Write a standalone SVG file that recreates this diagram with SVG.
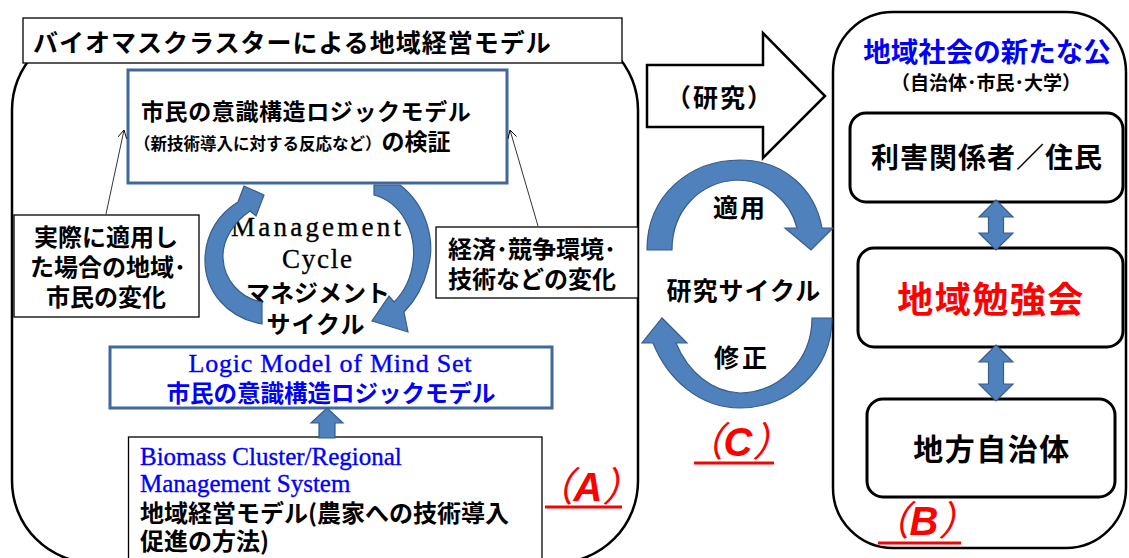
<svg xmlns="http://www.w3.org/2000/svg" width="1129" height="558" viewBox="0 0 1129 558">
<defs>
<style>
.jp{font-family:"Noto Sans CJK JP","Noto Sans CJK SC",sans-serif;font-weight:bold;fill:#000}
.sf{font-family:"Liberation Serif",serif;fill:#000;stroke:#000;stroke-width:0.35}
.blue{fill:#0000ff}
.sf.blue{stroke:#0000ff}
.red{fill:#ff0000}
.frame{fill:#fff;stroke:#000;stroke-width:2.5}
.box{fill:#fff;stroke:#000;stroke-width:1.3}
.bbox{fill:#fff;stroke:#41689a;stroke-width:3}
.rbox{fill:#fff;stroke:#000;stroke-width:3}
.blk{fill:#4f81bd;stroke:#385d8a;stroke-width:1.2}
.thin{fill:none;stroke:#000;stroke-width:0.8}
.lbl{font-family:"Liberation Sans","Noto Sans CJK JP",sans-serif;font-style:italic;font-weight:bold;fill:#ff0000}
.par{font-weight:normal}
.ul{stroke:#ff0000;stroke-width:3}
</style>
<marker id="open" viewBox="0 0 10 10" refX="9" refY="5" markerWidth="9" markerHeight="9" orient="auto" markerUnits="userSpaceOnUse">
<path d="M0,0 L9,5 L0,10" fill="none" stroke="#000" stroke-width="1"/>
</marker>
</defs>

<g id="regionA">
<rect class="frame" x="12" y="28" width="626" height="535" rx="82"/>
</g>
<g id="regionB">
<rect class="frame" x="833" y="12" width="293" height="536" rx="60"/>
</g>

<g id="title">
<rect class="box" x="23" y="18" width="599" height="45"/>
<text class="jp" x="33" y="52" font-size="25" letter-spacing="1">バイオマスクラスターによる地域経営モデル</text>
</g>

<g id="verify">
<rect class="bbox" x="128" y="70" width="379" height="113"/>
<text class="jp" x="141" y="120" font-size="23" letter-spacing="0.6">市民の意識構造ロジックモデル</text>
<text class="jp" x="134" y="150"><tspan font-size="16.5">（新技術導入に対する反応など）</tspan><tspan font-size="23">の検証</tspan></text>
</g>

<g id="leftLabel">
<rect class="box" x="14" y="215" width="185" height="102"/>
<text class="jp" x="106" y="246" font-size="24" text-anchor="middle">実際に適用し</text>
<text class="jp" x="108" y="276" font-size="24" text-anchor="middle">た場合の地域･</text>
<text class="jp" x="106" y="306" font-size="24" text-anchor="middle">市民の変化</text>
</g>

<g id="rightLabel">
<rect class="box" x="436" y="227" width="202" height="71"/>
<text class="jp" x="448" y="258" font-size="24">経済･競争環境･</text>
<text class="jp" x="448" y="288" font-size="24">技術などの変化</text>
</g>

<g id="cycleLabel">
<text class="sf" x="316" y="236" font-size="27" text-anchor="middle" textLength="170" lengthAdjust="spacing">Management</text>
<text class="sf" x="317" y="268" font-size="27" text-anchor="middle" textLength="70" lengthAdjust="spacing">Cycle</text>
<text class="jp" x="318" y="302" font-size="24" text-anchor="middle">マネジメント</text>
<text class="jp" x="316" y="333" font-size="24" text-anchor="middle" letter-spacing="1">サイクル</text>
</g>

<g id="logicModel">
<rect class="bbox" x="110" y="347" width="442" height="61"/>
<text class="sf blue" x="330" y="372" font-size="26" text-anchor="middle" textLength="283" lengthAdjust="spacing">Logic Model of Mind Set</text>
<text class="jp blue" x="331" y="402" font-size="23.5" text-anchor="middle">市民の意識構造ロジックモデル</text>
</g>

<g id="regionalModel">
<rect class="box" x="128.5" y="437" width="413.5" height="130"/>
<text class="sf blue" x="140" y="465" font-size="25">Biomass Cluster/Regional</text>
<text class="sf blue" x="140" y="492" font-size="25">Management System</text>
<text class="jp" x="140" y="522" font-size="24">地域経営モデル(農家への技術導入</text>
<text class="jp" x="140" y="550" font-size="24">促進の方法)</text>
</g>

<g id="labelA">
<text class="lbl" x="588" y="501" font-size="40" text-anchor="middle"><tspan class="par">（</tspan>A<tspan class="par">）</tspan></text>
<line class="ul" x1="545" y1="507" x2="622" y2="507"/>
</g>

<g id="publicTitle">
<text class="jp blue" x="987" y="62" font-size="27.5" text-anchor="middle">地域社会の新たな公</text>
<text class="jp" x="986" y="90" font-size="19" text-anchor="middle">（自治体･市民･大学）</text>
</g>

<g id="stakeholders">
<rect class="rbox" x="850" y="113" width="273" height="89" rx="16"/>
<text class="jp" x="987" y="168" font-size="28" text-anchor="middle" letter-spacing="1">利害関係者／住民</text>
</g>
<g id="studyGroup">
<rect class="rbox" x="858" y="248" width="265" height="99" rx="16"/>
<text class="jp red" x="991" y="313" font-size="36" text-anchor="middle" letter-spacing="1.5">地域勉強会</text>
</g>
<g id="localGov">
<rect class="rbox" x="867" y="399" width="248" height="98" rx="16"/>
<text class="jp" x="992" y="460" font-size="30" text-anchor="middle" letter-spacing="1.5">地方自治体</text>
</g>

<g id="labelB">
<text class="lbl" x="924" y="535" font-size="40" text-anchor="middle"><tspan class="par">（</tspan>B<tspan class="par">）</tspan></text>
<line class="ul" x1="878" y1="543" x2="961" y2="543"/>
</g>

<g id="connectors">
<line class="thin" x1="106" y1="214" x2="124" y2="130" marker-end="url(#open)"/>
<line class="thin" x1="538" y1="226" x2="510" y2="130" marker-end="url(#open)"/>
<path class="blk" d="M262,302 L262,324 C228,318 204,292 205,258 C206,232 220,213 238,202 L244,186 L264,195 L256,216 L250,211 C234,222 222,240 223,258 C224,280 240,298 262,302 Z"/>
<path class="blk" d="M374,185 L400,185 C426,205 436,240 428,268 C423,288 414,302 404,312 L408,332 L372,321 L389,296 L394,302 C404,292 411,278 413,262 C417,230 400,202 374,195 Z"/>
<polygon class="blk" points="327,408 343,423 335,423 335,438 319,438 319,423 311,423"/>
<polygon fill="#fff" stroke="#000" stroke-width="2.5" stroke-linejoin="miter" points="647,65 763,65 763,33 825,96 763,158 763,127 647,127"/>
<text class="jp" x="720" y="107" font-size="25" text-anchor="middle" letter-spacing="2">（研究）</text>
<path class="blk" d="M647,250 C647,195 690,160 740,160 C785,160 815,190 822,228 L833,228 L811,250 L785,228 L797,228 C790,200 765,180 737,180 C700,182 672,210 672,250 Z"/>
<path class="blk" d="M832,318 C832,370 790,408 740,408 C700,408 668,380 653,343 L642,343 L662,318 L687,343 L676,343 C688,372 712,392 740,393 C780,392 812,360 812,318 Z"/>
<polygon class="blk" points="996,200 1013,217 1003.5,217 1003.5,233 1013,233 996,250 979,233 988.5,233 988.5,217 979,217"/>
<polygon class="blk" points="996,345 1013,362 1003.5,362 1003.5,384 1013,384 996,401 979,384 988.5,384 988.5,362 979,362"/>
</g>

<g id="researchCycle">
<text class="jp" x="740" y="217" font-size="25" text-anchor="middle" letter-spacing="2">適用</text>
<text class="jp" x="744" y="300" font-size="25" text-anchor="middle" letter-spacing="1">研究サイクル</text>
<text class="jp" x="742" y="367" font-size="25" text-anchor="middle" letter-spacing="3">修正</text>
</g>

<g id="labelC">
<text class="lbl" x="738" y="456" font-size="40" text-anchor="middle"><tspan class="par">（</tspan>C<tspan class="par">）</tspan></text>
<line class="ul" x1="694" y1="463" x2="774" y2="463"/>
</g>
</svg>
